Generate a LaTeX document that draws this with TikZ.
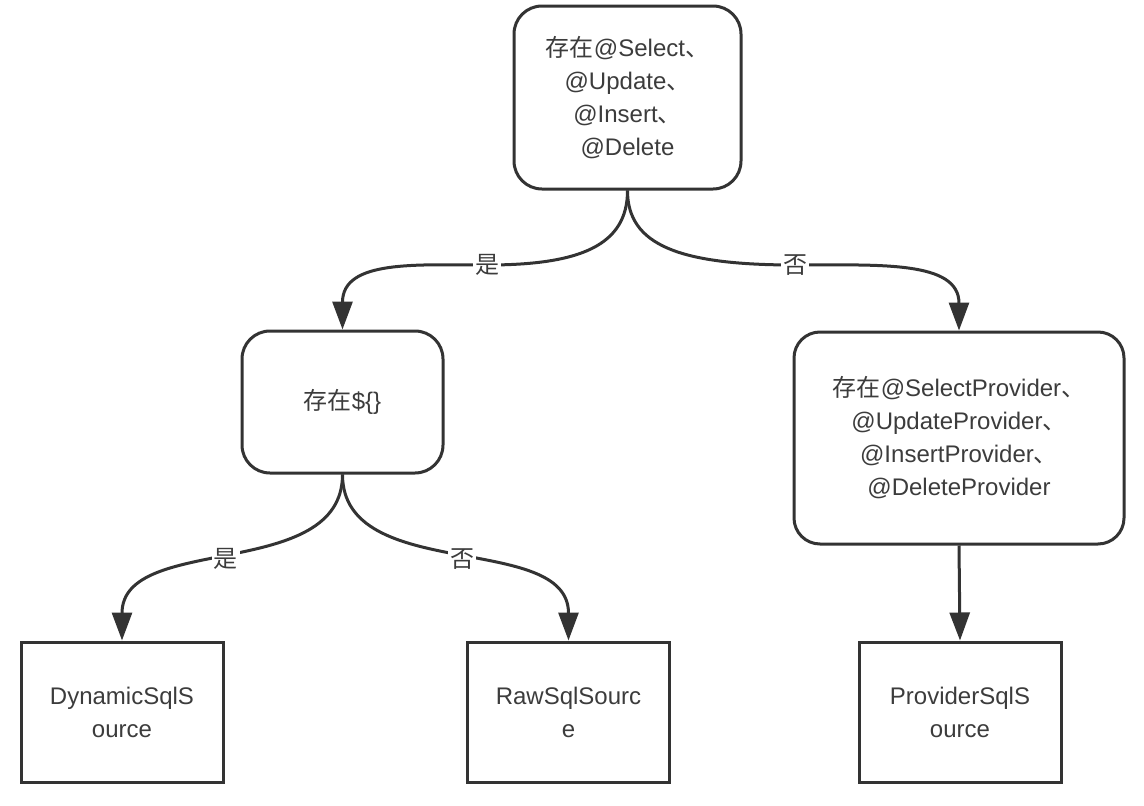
\documentclass[tikz,border=0pt]{standalone}
\usepackage{fontspec}
\setmainfont{Liberation Sans}
\newfontfamily\cjk{Noto Sans CJK SC}
\usetikzlibrary{arrows.meta}
\definecolor{ink}{HTML}{333333}
\definecolor{txt}{HTML}{3C3C3C}
\tikzset{
  base/.style={draw=ink, line width=3pt, fill=white, inner sep=0pt, align=center,
    text=txt, font=\fontsize{24}{33}\selectfont},
  decision/.style={base, rounded corners=28pt},
  result/.style={base, minimum width=202pt, minimum height=140pt},
  conn/.style={draw=ink, line width=3pt, -{Triangle[length=28pt,width=20pt]}},
  lbl/.style={fill=white, inner sep=2pt, text=txt, font=\fontsize{24}{28}\selectfont\cjk}
}
\begin{document}
\begin{tikzpicture}[x=1pt, y=-1pt]
\useasboundingbox[fill=white] (0,0) rectangle (1144,806);

\node[decision, minimum width=227pt, minimum height=183pt] (top) at (627.5,97.5)
  {{\cjk 存在}@Select{\cjk 、}\\@Update{\cjk 、}\\@Insert{\cjk 、}\\@Delete};
\node[decision, minimum width=201pt, minimum height=142pt] (mid) at (342.5,402)
  {{\cjk 存在}\$\{\}};
\node[decision, rounded corners=26pt, minimum width=330pt, minimum height=212pt] (prov) at (959,438)
  {{\cjk 存在}@SelectProvider{\cjk 、}\\@UpdateProvider{\cjk 、}\\@InsertProvider{\cjk 、}\\@DeleteProvider};

\node[result] (dyn) at (122,712) {DynamicSqlS\\ource};
\node[result] (raw) at (568.5,712) {RawSqlSourc\\e};
\node[result] (psql) at (960,712) {ProviderSqlS\\ource};

\coordinate (c1) at (487,265);
\coordinate (c2) at (795,265);

\draw[conn] (top.south) .. controls +(0,55) and +(93,0) .. (c1)
  .. controls +(-70,0) and +(0,-70) .. (mid.north);
\node[lbl] at (c1) {是};
\draw[conn] (top.south) .. controls +(0,55) and +(-115,0) .. (c2)
  .. controls +(85,0) and +(0,-70) .. (prov.north);
\node[lbl] at (c2) {否};

\draw[conn] (mid.south) to[out=-90, in=90] node[lbl, pos=0.52] {是} (dyn.north);
\draw[conn] (mid.south) to[out=-90, in=90] node[lbl, pos=0.52] {否} (raw.north);
\draw[conn] (prov.south) -- (psql.north);
\end{tikzpicture}
\end{document}
